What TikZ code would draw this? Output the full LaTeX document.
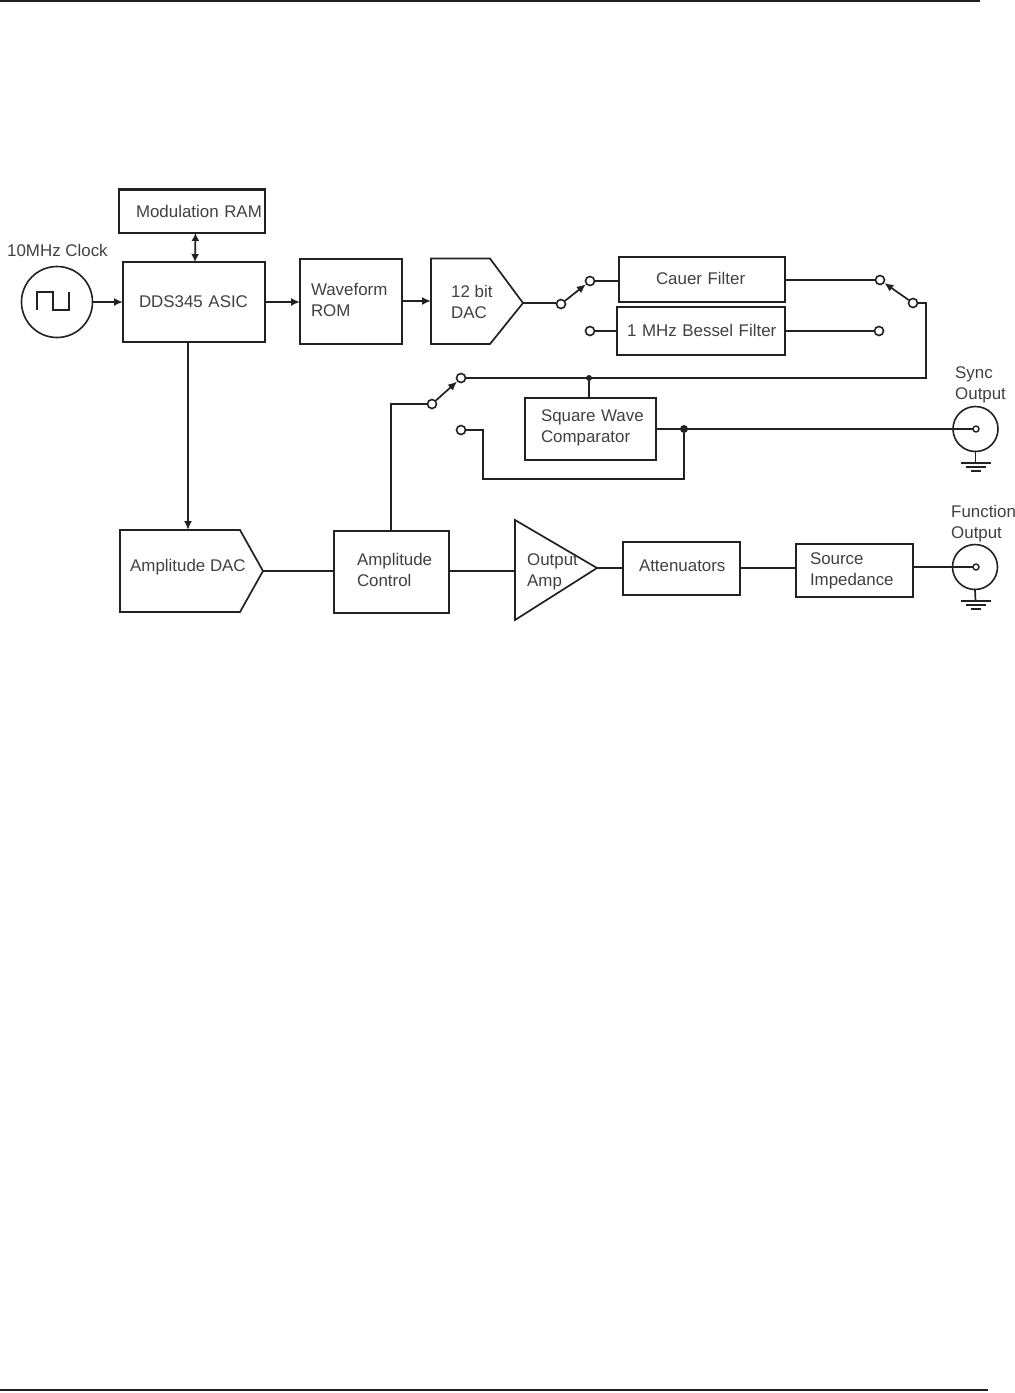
\documentclass[tikz,border=0pt]{standalone}
\usepackage{fontspec}
\setmainfont{Liberation Sans}
\usetikzlibrary{arrows.meta,calc}
\definecolor{ink}{gray}{0.13}
\definecolor{txt}{gray}{0.25}
\tikzset{
  wire/.style={draw=ink,line width=1.7pt,line cap=round,line join=miter},
  arrowwire/.style={wire,-{Latex[length=9pt,width=8pt]}},
  boxed/.style={draw=ink,line width=1.7pt,rectangle,outer sep=0pt,inner xsep=2pt,inner ysep=0pt,align=left,text=txt,anchor=north west,font=\fontsize{16.9}{21}\selectfont},
  outline/.style={draw=ink,line width=1.7pt,line join=miter},
  lbl/.style={text=txt,align=left,inner sep=0pt,font=\fontsize{16.9}{21}\selectfont},
  contact/.style={circle,draw=ink,line width=1.6pt,fill=white,minimum size=9pt,inner sep=0pt},
  junction/.style={circle,fill=ink,minimum size=6pt,inner sep=0pt},
  bigjunction/.style={circle,fill=ink,minimum size=8pt,inner sep=0pt},
  bnc/.style={circle,draw=ink,line width=1.6pt,minimum size=45pt,inner sep=0pt,outer sep=0pt},
  pin/.style={circle,draw=ink,line width=1.4pt,fill=white,minimum size=6pt,inner sep=0pt},
}
\newcommand{\blk}[7]{% name,x1,y1,x2,y2,text,lift
  \pgfmathsetmacro{\bw}{#4-#2}\pgfmathsetmacro{\bh}{#5-#3}\pgfmathsetmacro{\tw}{\bw-4}
  \node[boxed,minimum width=\bw pt,minimum height=\bh pt,text width=\tw pt] (#1) at (#2,#3) {#6\par\vspace{#7}};}
\begin{document}
\begin{tikzpicture}[x=1pt,y=-1pt]
\useasboundingbox (0,0) rectangle (1015,1393);
% page rules
\coordinate (tl) at (0,1); \coordinate (tr) at (980,1);
\coordinate (bl) at (0,1390); \coordinate (br) at (988,1390);
\draw[ink,line width=2pt] (tl) -- (tr);
\draw[ink,line width=2pt] (bl) -- (br);
% blocks
\blk{ram}{119}{189}{265}{233}{\hspace*{15pt}Modulation RAM}{0pt}
\draw[ink,line width=3pt] (ram.north west) -- (ram.north east);
\blk{dds}{123}{262}{265}{342}{\hspace*{14pt}DDS345 ASIC}{0pt}
\blk{rom}{300}{259}{402}{344}{\hspace*{9pt}Waveform\\\hspace*{9pt}ROM}{4pt}
\blk{cauer}{619}{257}{785}{302}{\hspace*{35pt}Cauer Filter}{2pt}
\blk{bessel}{617}{307}{785}{355}{\hspace*{8pt}1 MHz Bessel Filter}{2pt}
\blk{comp}{525}{398}{656}{460}{\hspace*{14pt}Square Wave\\\hspace*{14pt}Comparator}{2pt}
\blk{actl}{334}{531}{449}{613}{\hspace*{21pt}Amplitude\\\hspace*{21pt}Control}{4pt}
\blk{att}{623}{542}{740}{595}{\hspace*{14pt}Attenuators}{6pt}
\blk{src}{796}{544}{913}{597}{\hspace*{12pt}Source\\\hspace*{12pt}Impedance}{0pt}
% clock
\node[circle,draw=ink,line width=1.6pt,minimum size=71pt,inner sep=0pt] (clk) at (57,302) {};
\draw[ink,line width=1.6pt] (37,310) -- (37,292) -- (53,292) -- (53,310) -- (69,310) -- (69,292);
\node[lbl,anchor=base west] (clklbl) at (7,256) {10MHz Clock};
% 12 bit DAC
\coordinate (dacout) at (523,303);
\draw[outline] (431,258.5) -- (490,258.5) -- (dacout) -- (490,344) -- (431,344) -- cycle;
\coordinate (dacin) at (431,301);
\node[lbl,anchor=base west] (daclbl) at (451,318) {12 bit\\DAC};
% Amplitude DAC
\coordinate (adacout) at (263,571); \coordinate (adactop) at (188,530);
\draw[outline] (120,530) -- (240,530) -- (adacout) -- (240,612) -- (120,612) -- cycle;
\node[lbl,anchor=base west] (adaclbl) at (130,571) {Amplitude DAC};
% Output amp
\coordinate (ampin) at (515,571); \coordinate (ampout) at (597,568);
\draw[outline] (515,520) -- (ampout) -- (515,620) -- cycle;
\node[lbl,anchor=base west] (amplbl) at (527,586) {Output\\Amp};
% contacts
\node[contact] (a1) at (561,304) {};
\node[contact] (a2) at (590,281) {};
\node[contact] (a3) at (590,331) {};
\node[contact] (b1) at (880,280) {};
\node[contact] (b2) at (913,303) {};
\node[contact] (b3) at (879,331) {};
\node[contact] (c1) at (432,404) {};
\node[contact] (c2) at (461,378) {};
\node[contact] (c3) at (461,430) {};
\node[junction] (j1) at (589,378) {};
\node[bigjunction] (j2) at (684,429) {};
% output connectors
\node[lbl,anchor=base west] (synclbl) at (955,399) {Sync\\Output};
\node[lbl,anchor=base west] (funclbl) at (951,538) {Function\\Output};
\node[bnc] (sync) at (975.5,429) {};
\node[bnc] (func) at (975,567) {};
\foreach \n/\y in {sync/429,func/567}{
  \coordinate (\n g) at (975.5,\y+34);
  \draw[wire] (\n.south) -- (\n g);
  \draw[ink,line width=1.6pt] ($(\n g)+(-15,0)$) -- ($(\n g)+(15,0)$);
  \draw[ink,line width=1.6pt] ($(\n g)+(-10,4)$) -- ($(\n g)+(10,4)$);
  \draw[ink,line width=1.6pt] ($(\n g)+(-5,8)$) -- ($(\n g)+(5,8)$);
}
% connectors
\draw[arrowwire] (clk.east) -- (clk.east -| dds.west);
\draw[arrowwire] (dds.east) -- (dds.east -| rom.west);
\draw[arrowwire] (rom.east |- dacin) -- (dacin);
\draw[wire,{Latex[length=8pt,width=8pt]}-{Latex[length=8pt,width=8pt]}] ([xshift=3.5pt]ram.south) -- ([xshift=1pt]dds.north);
\draw[arrowwire] (adactop |- dds.south) -- (adactop);
\draw[wire] (dacout) -- (dacout -| a1.west);
\draw[arrowwire] (a1) -- (a2);
\draw[wire] (a2.east) -- (a2.east -| cauer.west);
\draw[wire] (a3.east) -- (a3.east -| bessel.west);
\draw[wire] (b1.west -| cauer.east) -- (b1.west);
\draw[wire] (b3.west -| bessel.east) -- (b3.west);
\draw[arrowwire] (b2) -- (b1);
\draw[wire] (b2.east) -- (926,303) -- (926,378) -- (c2.east);
\draw[wire] (j1) -- (j1 |- comp.north);
\draw[arrowwire] (c1) -- (c2);
\draw[wire] (c1.west) -| ([xshift=-0.5pt]actl.north);
\draw[wire] (comp.east |- j2) -- (sync.center);
\draw[wire] (j2) -- (684,479) -- (483,479) -- (483,430) -- (c3.east);
\draw[wire] (adacout) -- (adacout -| actl.west);
\draw[wire] (ampin -| actl.east) -- (ampin);
\draw[wire] (ampout) -- (ampout -| att.west);
\draw[wire] (att.east |- ampout) -- (ampout -| src.west);
\draw[wire] (src.east |- func) -- (func.center);
\node[pin] (syncpin) at (976,429) {};
\node[pin] (funcpin) at (976,567) {};
\end{tikzpicture}
\end{document}
